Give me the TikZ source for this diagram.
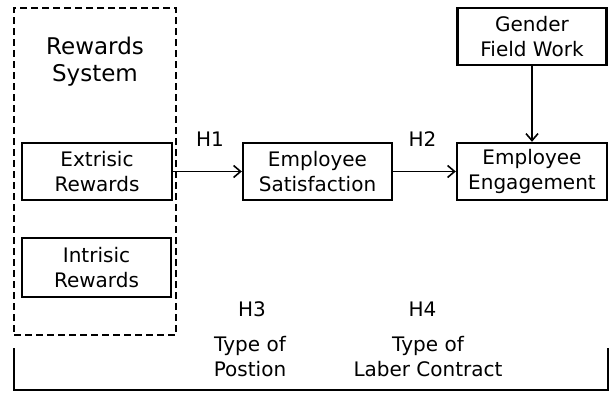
\documentclass[tikz,border=0pt]{standalone}
\usepackage{fontspec}
\setmainfont{DejaVu Sans}
\usepackage{tikz}
\usetikzlibrary{positioning,arrows.meta}

\begin{document}
\begin{tikzpicture}[x=1pt,y=-1pt,
  font=\fontsize{20}{25}\selectfont,
  box/.style={draw,line width=2.4pt,minimum width=149pt,minimum height=57pt,
              align=center,inner sep=0pt},
  grp/.style={draw,line width=2.5pt,dash pattern=on 7pt off 4pt,
              minimum width=162pt,minimum height=327pt,inner sep=0pt},
  link/.style={line width=1.6pt,
               -{Straight Barb[length=7pt,width=12pt,line width=1.6pt]}},
  hyp/.style={inner sep=0pt},
  ctl/.style={align=center,inner sep=0pt},
  frame/.style={line width=1.6pt}]

\useasboundingbox (0,0) rectangle (609,392);

% rewards system group
\node[grp] (rsys) at (95,171.5) {};
\node[ctl,font=\fontsize{23}{27}\selectfont] (rtitle) at (95,62)
  {Rewards\\System};
\node[box,minimum width=150pt] (extr) at (97,171.5) {Extrisic\\Rewards};
\node[box,minimum height=59pt] (intr) at (96.5,267.5) {Intrisic\\Rewards};

% outcomes
\node[box] (sat) at (317.5,171.5) {Employee\\Satisfaction};
\node[box,minimum width=150pt] (eng) at (532,171.5) {Employee\\Engagement};
\node[box] (gfw) at (532,36.5) {Gender\\Field Work};

\draw[link] (extr.east) -- (sat.west);
\draw[link] (sat.east) -- (eng.west);
\draw[link] (gfw.south) -- (eng.north);

\node[hyp] (h1) at (210,139.5) {H1};
\node[hyp] (h2) at (422.5,139.5) {H2};
\node[hyp] (h3) at (252,309) {H3};
\node[hyp] (h4) at (422.5,309) {H4};

% controls
\node[ctl] (pos) at (250,357) {Type of\\Postion};
\node[ctl] (lab) at (428,357) {Type of\\Laber Contract};
\draw[frame] (14,348) -- (14,390) -- (608,390) -- (608,348);
\end{tikzpicture}
\end{document}
